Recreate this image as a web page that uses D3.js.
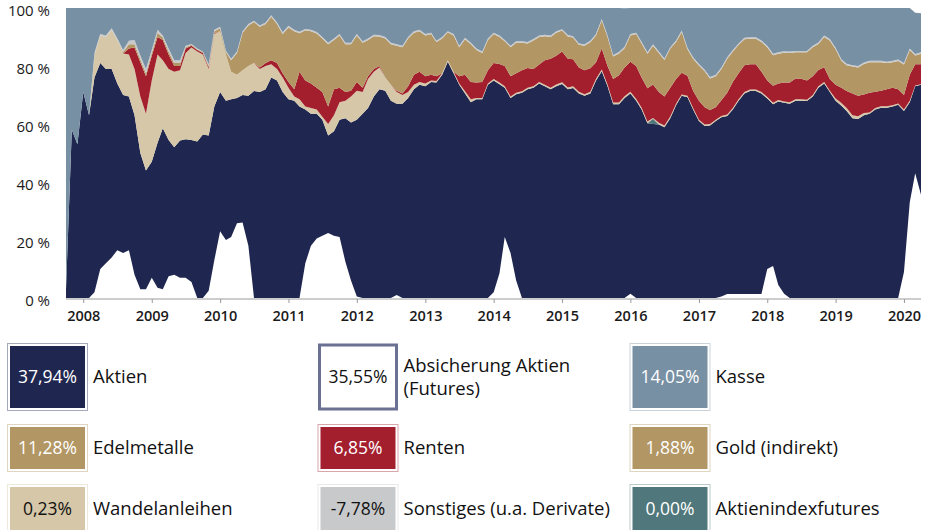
<!DOCTYPE html>
<html>
<head>
<meta charset="utf-8">
<script src="https://cdn.jsdelivr.net/npm/d3@7"></script>
<style>
  body { margin: 0; background: #fff; }
  svg { display: block; font-family: "Open Sans", sans-serif; }
</style>
</head>
<body>
<svg id="chart" width="925" height="530"></svg>
<script>
// monthly values, first month = Oct 2007
const startMonth = new Date(2007, 9, 1);
const yearLabels = [2008, 2009, 2010, 2011, 2012, 2013, 2014, 2015, 2016, 2017, 2018, 2019, 2020];
const yTicks = [0, 20, 40, 60, 80, 100];

const absicherung = [
  0,0,0,0,0,2,10,12,14,16.5,
  15.5,16.5,8,3,3,7,3.5,3,7.5,8,
  7,7,5.5,0,0,2.5,13,23,20,21,
  25.8,26,18,0,0,0,0,0,0,0,
  0,0,12,18,20.5,21.5,22.4,21.5,21,12.5,
  6,0.5,0,0,0,0,0,0,1,0,
  0,0,0,0,0,0,0,0,0,0,
  0,0,0,0,0,2,8.5,21,15.5,6,
  0,0,0,0,0,0,0,0,0,0,
  0,0,0,0,0,0,0,0,0,1.5,
  0,0,0,0,0,0,0,0,0,0,
  0,0,0,0,0,0.5,1.4,1.4,1.4,1.4,
  1.4,1.4,1.4,10,11,4.5,1.5,0,0,0,
  0,0,0,0,0,0,0,0,0,0,
  0,0,0,0,0,0,0,9,33,43,
  35.6
];
const aktien = [
  3,58,53,71,63,74,71,67,65,57.5,
  54.5,53,55,47,41,40,50,55.5,47,44,
  47.3,47.7,49,54,56.4,53.5,53,48,48,47.5,
  43.2,44,51.7,71.4,71,72,76,75,71,68.5,
  68,66,53,45.5,43,40,33.6,36,40.5,49.5,
  54.5,61,63.5,65.5,69.5,72,71.5,68,66,67,
  69,72,73.5,73,74.5,74.3,77,81.5,77.5,73.5,
  70.5,67.5,68.5,68.5,73.5,73,65.2,51.5,53.5,64.3,
  70.8,72,72.5,74,73,72,73,73.8,72,72.4,
  70.5,69.7,70.5,74.9,78.2,73,66.8,66.8,69,69,
  68,65,60.3,60,59.8,58.9,62,66.5,69.7,69.2,
  65,61,59.3,59.5,61,61.8,61.4,63.6,66.6,69.1,
  70,70,69.1,58.8,55.8,63.3,65.8,67,68,68,
  67.9,69.5,72.5,74,71,68,66.3,64.5,62,61.7,
  63,63.5,65,65.6,65.6,66,66.6,55.5,34.5,30,
  37.9
];
const indexfutures = [
  0,0,0,0,0,0,0,0,0,0, 0,0,0,0,0,0,0,0,0,0,
  0,0,0,0,0,0,0,0,0,0, 0,0,0,0,0,0,0,0,0,0,
  0,0,0,0,0,0,0,0,0,0, 0,0,0,0,0,0,0,0,0,0,
  0,0,0,0,0,0,0,0,0,0, 0,0,0,0,0,0,0,0,0,0,
  0,0,0,0,0,0,0,0,0,0, 0,0,0,0,0,0,0,0,0,0,
  0,0,0,1.8,0,0,0,0,0,0, 0,0,0,0,0,0,0,0,0,0,
  0,0,0,0,0,0,0,0,0,0, 0,0,0,0,0,0,0,0,0,0,
  0,0,0,0,0,0,0,0,0,0, 0
];
const wandel = [
  0,0,0,0,0,8,9.5,11,13.5,15,
  14.3,14.5,16,19.5,19.5,28,30.5,23.5,24.5,26,
  24.2,29.8,31.9,31,27.6,23,25,21,16,9.5,
  8,8.5,10.3,9.6,8,8,4.6,4,5,4,
  1.5,2.5,1,2,1.5,1,4,5.5,6,6,
  9,10,7.5,10,8.5,7.5,4.5,5.5,4,3,
  2,1.5,1,1,0.5,0.5,0.5,0.5,0.5,0.5,
  0.8,1,0.5,0.5,0.5,0.5,0.6,0.5,0.5,0.5,
  0.5,0.5,0.5,0.5,0.5,0.5,0.6,0.6,0.6,0.6,
  0.6,0.6,0.6,0.6,0.6,0.6,0.6,0.6,0.6,0.6,
  0.6,0.6,0.6,0.3,0.6,0.6,0.6,0.5,0.5,0.5,
  0.5,0.5,0.5,0.5,0.5,0.5,0.5,0.5,0.5,0.5,
  0.5,0.5,0.5,0.5,0.5,0.5,0.5,0.5,0.5,0.5,
  0.5,0.5,0.5,0.5,0.5,0.8,0.9,1,1,1,
  0.8,0.5,0.5,0.5,0.5,0.5,0.5,0.5,0.5,0.3,
  0.2
];
const renten = [
  0,0,0,0,0,0,0,0,0,0,
  0,2,7.4,11.8,13,8.5,6,7,5,2,
  1.5,1.5,0.6,0.5,0.5,0.5,0.3,0,0,0,
  0,0,0,0,0.5,1,1.4,2,1.5,2,
  2.5,9.5,9,8.5,7.5,8.5,6,9,5,3,
  2,3,1.5,1,1,0.5,0,0,0.5,0.5,
  2,3.5,3.5,2.5,2,1.7,0,0,0,2.5,
  5.7,6,5.3,5.5,4.5,5.5,6.4,7,7,6.7,
  7.2,6.8,6,6,8.5,10,9.9,10.6,9.9,9.3,
  8.4,8.2,8.1,5.7,7.2,6.4,8.1,9.4,9.9,10.4,
  11.4,10.4,11.4,11.5,10.6,10,9.9,8.5,7.5,6.9,
  6,6.5,6,4.8,4.3,5.4,7.5,9,9,9.3,
  8.7,8.7,7,5.7,5.9,5.7,6.5,6.8,7.2,7.1,
  6.6,6.5,5.6,5.1,4,4.7,5.3,5.9,7.5,7,
  6.4,6.8,5.6,5.4,5.9,6,4.9,5,9,7.3,
  6.9
];
const edelmetalle = [
  0,0,0,0,0,0,0,0,0,0,
  0.5,1.5,1.1,1,1,1,1.5,0.8,1,1,
  1,0.5,0.3,0.3,0.3,0.5,0.7,1,0.8,4,
  7.5,13,14,14.2,14,13.5,15,13.5,13.5,18.8,
  20,13.3,17.3,18,18.7,18.5,21.5,17,18,16.5,
  16,16,15.5,12.5,11.3,10.2,13.5,14,15.5,16,
  16.5,14.5,14,14,14,11.8,12,9.6,12.5,10,
  12.2,13,11.2,10,10.5,10,9.3,8.5,10,10.5,
  9.5,8.5,9.8,9.5,8.3,7.5,8,7.2,7.7,7.5,
  7.8,8.5,9,9.3,9.7,10,7.8,7.5,6.6,9,
  11,11.8,11.9,13.4,13.5,12.6,13.5,12.8,14,9.2,
  11,12.2,12.4,10.9,10.7,10.8,11.7,10.5,9.8,8.9,
  8.8,8.8,10.3,11.5,10.5,10.2,10.3,10.2,9,9.1,
  9.7,10,9,10.4,13.3,12.3,9.3,8.9,9.3,9.8,
  10.5,10.5,10.2,9.8,9,8.8,9.7,10.5,8.5,3,
  3.6
];
const sonstiges = [
  0,0,0,0,0,0.5,0.5,0.5,0.5,0.5,
  0.7,1.2,1.5,1.3,1.5,1,1,0.7,1,1,
  1,0.5,0.3,0.2,0.2,0.6,0.5,0.5,0.5,0.5,
  0.5,0.5,0.5,0.4,0.5,0.5,0.5,0.5,0.6,0.6,
  0.5,0.5,0.5,0.5,0.5,0.5,0.5,0.5,0.5,0.5,
  0.5,0.5,0.5,0.5,0.5,0.5,0.5,0.5,0.5,0.5,
  0.5,0.5,0.5,0.5,0.5,0.4,0.5,0.4,0.5,0.5,
  0.5,0.5,0.5,0.5,0.5,0.5,0.5,0.5,0.5,0.5,
  0.5,0.5,0.5,0.5,0.5,0.5,0.5,0.5,0.5,0.5,
  0.5,0.5,0.5,0.5,0.5,0.5,0.5,0.5,0.5,0.5,
  0.5,0.5,0.5,0.5,0.5,0.5,0.5,0.5,0.5,0.5,
  0.5,0.5,0.5,0.5,0.5,0.5,0.5,0.5,0.5,0.5,
  0.5,0.5,0.5,0.5,0.5,0.5,0.5,0.5,0.5,0.5,
  0.5,0.5,0.5,0.5,0.5,0.5,0.5,0.5,0.5,0.5,
  0.5,0.5,0.5,0.5,0.5,0.5,0.5,0.5,0.5,0.5,
  0.5
];
const kasse = [
  97,42,47,29,37,15.5,9,9.5,7,10.5,
  14.5,11.3,11,16.4,21,14.5,7.5,9.5,14,18,
  18,13,12.4,14,15,19.4,7.5,6.5,14.7,17.5,
  15,8,5.5,4.4,6,5,2.5,5,8.4,6.1,
  7.5,8.2,7.2,7.5,8.3,10,12,10.5,9,12,
  12,9,11.5,10.5,9.2,9.3,10,12,12.5,13,
  10,8,7.5,9,8.5,11.3,10,8,9,13,
  10.3,12,14,15,10.5,8.5,9.5,11,13,11.5,
  11.5,11.7,10.7,9.5,9.2,9.5,8,7.3,9.3,9.7,
  12.2,12.5,11.3,9,3.8,9.5,16.2,15.2,13.3,9,
  8.5,11.7,15.3,12.5,15,17.4,13.5,11.2,7.8,13.7,
  17,19.3,21.3,23.8,23,20.5,17,14.5,12.2,10.3,
  10.1,10.1,11.2,13,15.8,15.3,14.9,15,14.8,14.8,
  14.8,13,11.9,9.5,10.7,13.7,17.7,19.2,19.7,20,
  18.8,18.2,18.2,18.2,18.5,18.2,17.8,19,14,14.3,
  13.5
];

// legend: latest allocation
const legendNames = ['Aktien', 'Absicherung Aktien\n(Futures)', 'Kasse',
  'Edelmetalle', 'Renten', 'Gold (indirekt)',
  'Wandelanleihen', 'Sonstiges (u.a. Derivate)', 'Aktienindexfutures'];
const legendValues = ['37,94%', '35,55%', '14,05%', '11,28%', '6,85%', '1,88%', '0,23%', '-7,78%', '0,00%'];
const legendColors = ['#1f2750', '#ffffff', '#7890a4', '#b29664', '#a41f2e', '#b29664', '#d5c7a7', '#c8c9cb', '#50777b'];
const legendDark = [true, false, true, true, true, true, false, false, true];

const keys = ['absicherung', 'aktien', 'indexfutures', 'wandel', 'renten', 'edelmetalle', 'sonstiges', 'kasse'];
const colors = {
  absicherung: '#ffffff', aktien: '#1f2750', indexfutures: '#50777b', wandel: '#d5c7a7',
  renten: '#a41f2e', edelmetalle: '#b29664', sonstiges: '#c8c9cb', kasse: '#7890a4'
};
const series = {absicherung, aktien, indexfutures, wandel, renten, edelmetalle, sonstiges, kasse};

const table = aktien.map((d, i) => {
  const row = {date: d3.timeMonth.offset(startMonth, i)};
  keys.forEach(k => { row[k] = series[k][i]; });
  return row;
});

const svg = d3.select('#chart');
const plot = {left: 66, right: 921, top: 8, bottom: 298};

const x = d3.scaleTime()
  .domain([table[0].date, table[table.length - 1].date])
  .range([plot.left, plot.right]);
const y = d3.scaleLinear().domain([0, 100]).range([plot.bottom, plot.top]);

const stacked = d3.stack().keys(keys)(table);

const area = d3.area()
  .x(d => x(d.data.date))
  .y0(d => y(d[0]))
  .y1(d => y(d[1]));

svg.append('g')
  .selectAll('path')
  .data(stacked)
  .join('path')
  .attr('fill', d => colors[d.key])
  .attr('d', area);

// y labels
svg.append('g')
  .selectAll('text')
  .data(yTicks)
  .join('text')
  .attr('x', 50)
  .attr('y', d => y(d))
  .attr('dy', '0.53em')
  .attr('text-anchor', 'end')
  .attr('font-size', 15)
  .attr('fill', '#1a1a1a')
  .text(d => d + ' %');

// x axis
const xAxis = d3.axisBottom(x)
  .tickValues(yearLabels.map(yr => new Date(yr, 0, 1)))
  .tickFormat(d3.timeFormat('%Y'))
  .tickSize(4)
  .tickPadding(8);

const gx = svg.append('g')
  .attr('transform', `translate(0,${plot.bottom + 1})`)
  .call(xAxis);
gx.select('.domain').attr('stroke', '#9a9a9a').attr('d', `M${plot.left},0H${plot.right}`);
gx.selectAll('.tick line').attr('stroke', '#9a9a9a');
gx.selectAll('.tick text')
  .attr('font-family', '"Open Sans", sans-serif')
  .attr('font-size', 14.5)
  .attr('font-weight', 600)
  .attr('fill', '#1a1a1a');

// legend
const colX = [10, 320.5, 632.5];
const rowTop = [346, 427, 487];
const rowH = [62, 42, 43];
const boxW = 75;

const leg = svg.append('g');
legendNames.forEach((name, i) => {
  const c = i % 3, r = Math.floor(i / 3);
  const bx = colX[c], by = rowTop[r], bh = rowH[r];
  const g = leg.append('g');
  if (legendColors[i] === '#ffffff') {
    g.append('rect')
      .attr('x', bx - 1).attr('y', by - 1)
      .attr('width', boxW + 2).attr('height', bh + 2)
      .attr('fill', '#fff')
      .attr('stroke', '#6b7193')
      .attr('stroke-width', 3);
  } else {
    g.append('rect')
      .attr('x', bx - 2.5).attr('y', by - 2.5)
      .attr('width', boxW + 5).attr('height', bh + 5)
      .attr('fill', 'none')
      .attr('stroke', d3.interpolateRgb(legendColors[i], '#fff')(0.6))
      .attr('stroke-width', 1);
    g.append('rect')
      .attr('x', bx).attr('y', by)
      .attr('width', boxW).attr('height', bh)
      .attr('fill', legendColors[i]);
  }
  g.append('text')
    .attr('x', bx + boxW / 2)
    .attr('y', by + bh / 2)
    .attr('dy', '0.35em')
    .attr('text-anchor', 'middle')
    .attr('font-size', 17.5)
    .attr('fill', legendDark[i] ? '#fff' : '#111')
    .text(legendValues[i]);

  const lines = name.split('\n');
  const t = g.append('text')
    .attr('x', bx + boxW + 8)
    .attr('y', by + bh / 2 - (lines.length - 1) * 11.5)
    .attr('font-size', 18.5)
    .attr('fill', '#111');
  lines.forEach((ln, j) => {
    t.append('tspan')
      .attr('x', bx + boxW + 8)
      .attr('dy', j === 0 ? '0.35em' : 23)
      .text(ln);
  });
});
</script>
</body>
</html>
